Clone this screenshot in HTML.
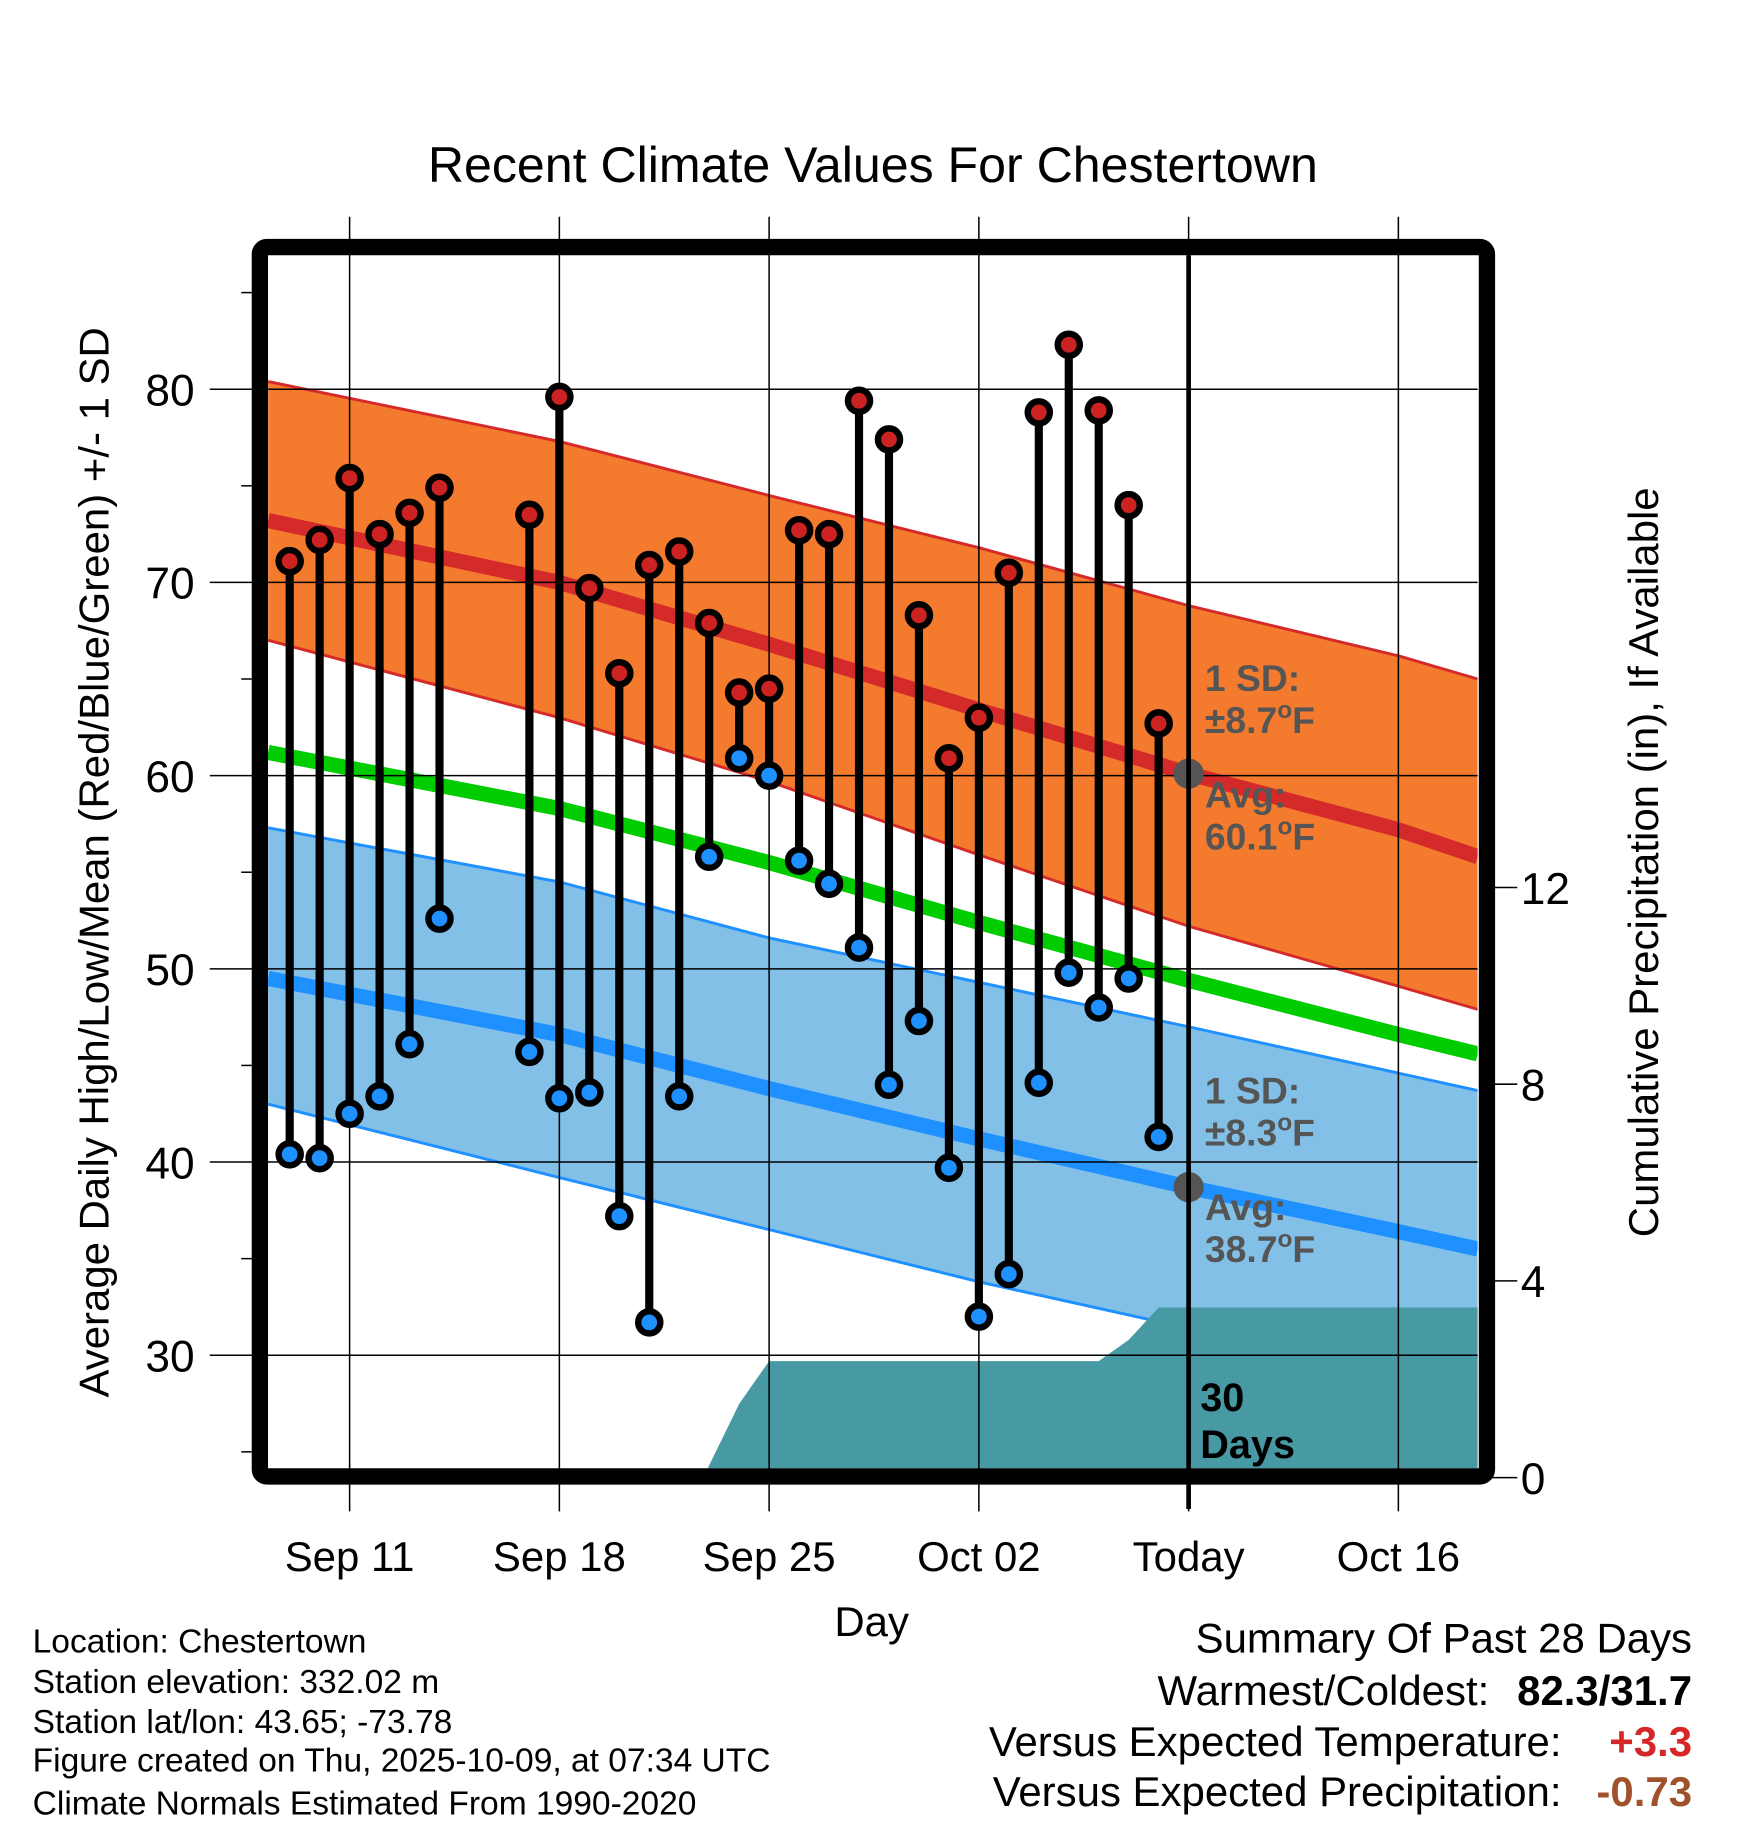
<!DOCTYPE html>
<html><head><meta charset="utf-8"><style>
html,body{margin:0;padding:0;background:#fff;}
svg{display:block;font-family:"Liberation Sans",sans-serif;}
</style></head><body>
<svg id="chart" width="1748" height="1828" viewBox="0 0 1500 1568.7" xmlns="http://www.w3.org/2000/svg">
<defs><clipPath id="pc"><rect x="230" y="219" width="1038" height="1041"/></clipPath></defs>
<rect x="0" y="0" width="1500" height="1569" fill="#fff"/>
<text x="749" y="156" font-size="43" text-anchor="middle">Recent Climate Values For Chestertown</text>
<g id="bands" clip-path="url(#pc)"></g>
<g id="grid"></g>
<g id="marks" clip-path="url(#pc)"></g>
<g id="axes"></g>
<rect x="223" y="212" width="1053" height="1055" rx="6" fill="none" stroke="#000" stroke-width="14"/>
<g font-size="32" font-weight="bold" fill="#555">
<text x="1034" y="593">1 SD:</text>
<text x="1034" y="629">±8.7<tspan font-size="21" dy="-13">o</tspan><tspan dy="13">F</tspan></text>
<text x="1034" y="693">Avg:</text>
<text x="1034" y="729">60.1<tspan font-size="21" dy="-13">o</tspan><tspan dy="13">F</tspan></text>
<text x="1034" y="947">1 SD:</text>
<text x="1034" y="983">±8.3<tspan font-size="21" dy="-13">o</tspan><tspan dy="13">F</tspan></text>
<text x="1034" y="1047">Avg:</text>
<text x="1034" y="1083">38.7<tspan font-size="21" dy="-13">o</tspan><tspan dy="13">F</tspan></text>
</g>
<g font-size="34" font-weight="bold" fill="#000">
<text x="1030" y="1211">30</text><text x="1030" y="1251">Days</text>
</g>
<text transform="translate(93,740) rotate(-90)" font-size="36" text-anchor="middle">Average Daily High/Low/Mean (Red/Blue/Green) +/- 1 SD</text>
<text transform="translate(1423,740) rotate(-90)" font-size="36" text-anchor="middle">Cumulative Precipitation (in), If Available</text>
<text x="748" y="1404" font-size="36" text-anchor="middle">Day</text>
<g font-size="28.8">
<text x="28" y="1418">Location: Chestertown</text>
<text x="28" y="1453">Station elevation: 332.02 m</text>
<text x="28" y="1487">Station lat/lon: 43.65; -73.78</text>
<text x="28" y="1520">Figure created on Thu, 2025-10-09, at 07:34 UTC</text>
<text x="28" y="1557">Climate Normals Estimated From 1990-2020</text>
</g>
<g font-size="36">
<text x="1452" y="1418" text-anchor="end">Summary Of Past 28 Days</text>
<text x="1278" y="1463" text-anchor="end">Warmest/Coldest:</text>
<text x="1452" y="1463" text-anchor="end" font-weight="bold">82.3/31.7</text>
<text x="1340" y="1507" text-anchor="end">Versus Expected Temperature:</text>
<text x="1452" y="1507" text-anchor="end" font-weight="bold" fill="#d62728">+3.3</text>
<text x="1340" y="1550" text-anchor="end">Versus Expected Precipitation:</text>
<text x="1452" y="1550" text-anchor="end" font-weight="bold" fill="#a0522d">-0.73</text>
</g>
<script>
// day index: 0 = Sep 11
const obsDays = [-2,-1,0,1,2,3,6,7,8,9,10,11,12,13,14,15,16,17,18,19,20,21,22,23,24,25,26,27];
const highs = [71.1,72.2,75.4,72.5,73.6,74.9,73.5,79.6,69.7,65.3,70.9,71.6,67.9,64.3,64.5,72.7,72.5,79.4,77.4,68.3,60.9,63.0,70.5,78.8,82.3,78.9,74.0,62.7];
const lows = [40.4,40.2,42.5,43.4,46.1,52.6,45.7,43.3,43.6,37.2,31.7,43.4,55.8,60.9,60.0,55.6,54.4,51.1,44.0,47.3,39.7,32.0,34.2,44.1,49.8,48.0,49.5,41.3];
const normDays = [-2.72,7,14,21,28,35,37.65];
const highAvg = [73.2,70.0,66.8,63.4,60.1,57.2,55.8];
const highUpper = [80.4,77.3,74.5,71.8,68.8,66.2,65.0];
const highLower = [67.0,63.0,59.7,55.9,52.2,49.1,47.9];
const meanAvg = [61.2,58.3,55.5,52.4,49.4,46.6,45.6];
const lowAvg = [49.5,46.6,43.8,41.2,38.7,36.4,35.5];
const lowUpper = [57.3,54.5,51.6,49.3,47.0,44.6,43.7];
const lowLower = [43.0,39.2,36.5,33.8,31.4,29.0,27.8];
const precipDays = [-3,11.8,13,14,25,26,27,38];
const precipCum = [0,0,1.5,2.37,2.37,2.8,3.46,3.46];
const xTickDays = [0,7,14,21,28,35];
const xTickLabels = ["Sep 11","Sep 18","Sep 25","Oct 02","Today","Oct 16"];
const yTicks = [30,40,50,60,70,80];
const y2Ticks = [0,4,8,12];
const todayDay = 28;
const todayHigh = 60.1, todayLow = 38.7;

const X = d => 300 + d*25.714;
const Y = v => 334 + (80 - v)*16.58;
const Y2 = p => 1268 - p*42.2;
const NS = "http://www.w3.org/2000/svg";
function mk(tag, parent, attrs){const e=document.createElementNS(NS,tag);for(const k in attrs)e.setAttribute(k,attrs[k]);parent.appendChild(e);return e;}
const bands = document.getElementById('bands');
const grid = document.getElementById('grid');
const marks = document.getElementById('marks');
const axes = document.getElementById('axes');
function linePts(arr){return normDays.map((d,i)=>X(d).toFixed(1)+','+Y(arr[i]).toFixed(1)).join(' ');}
function bandPts(up,lo){const a=normDays.map((d,i)=>X(d).toFixed(1)+','+Y(up[i]).toFixed(1));const b=normDays.map((d,i)=>X(d).toFixed(1)+','+Y(lo[i]).toFixed(1)).reverse();return a.concat(b).join(' ');}

let e;
e = mk('polygon', bands, {points: bandPts(highUpper, highLower), fill:'#f47a2e'});


e = mk('polyline', bands, {points: linePts(highUpper), fill:'none', stroke:'#d42a2a', 'stroke-width':2.5});


e = mk('polyline', bands, {points: linePts(highLower), fill:'none', stroke:'#d42a2a', 'stroke-width':2.5});


e = mk('polygon', bands, {points: bandPts(lowUpper, lowLower), fill:'#82c0e8'});


e = mk('polyline', bands, {points: linePts(lowUpper), fill:'none', stroke:'#1e90ff', 'stroke-width':2.5});


e = mk('polyline', bands, {points: linePts(lowLower), fill:'none', stroke:'#1e90ff', 'stroke-width':2.5});


e = mk('polyline', bands, {points: linePts(highAvg), fill:'none', stroke:'#d42a2a', 'stroke-width':13});


e = mk('polyline', bands, {points: linePts(meanAvg), fill:'none', stroke:'#00cc00', 'stroke-width':13});


e = mk('polyline', bands, {points: linePts(lowAvg), fill:'none', stroke:'#1e90ff', 'stroke-width':13});



// precipitation
let pp = precipDays.map((d,i)=>X(d).toFixed(1)+','+Y2(precipCum[i]).toFixed(1));
pp.push(X(precipDays[precipDays.length-1]).toFixed(1)+',1300');
pp.push(X(precipDays[0]).toFixed(1)+',1300');
e = mk('polygon', bands, {points: pp.join(' '), fill:'#4799a3'});



// grid
xTickDays.forEach((d,i)=>{
  const l = mk('line', grid, {x1:X(d), x2:X(d), y1:186, y2:1297, stroke:'#000', 'stroke-width':1.3});
  
  
  const t = mk('text', axes, {x:X(d), y:1348, 'font-size':36, 'text-anchor':'middle'});
  t.textContent = xTickLabels[i];
  
  
});
yTicks.forEach(v=>{
  const l = mk('line', grid, {x1:180, x2:1268, y1:Y(v), y2:Y(v), stroke:'#000', 'stroke-width':1.3});
  
  
  const t = mk('text', axes, {x:167, y:Y(v)+14, 'font-size':38, 'text-anchor':'end'});
  t.textContent = v;
  
  
});
for(let v=25; v<=85; v+=10){
  const l = mk('line', grid, {x1:207, x2:216, y1:Y(v), y2:Y(v), stroke:'#000', 'stroke-width':1.3});
  
  
}
y2Ticks.forEach(p=>{
  const l = mk('line', grid, {x1:1276, x2:1302, y1:Y2(p), y2:Y2(p), stroke:'#000', 'stroke-width':1.3});
  
  
  const t = mk('text', axes, {x:1305, y:Y2(p)+14, 'font-size':38});
  t.textContent = p;
  
  
});

// observations
obsDays.forEach((d,i)=>{
  const s = mk('line', marks, {x1:X(d), x2:X(d), y1:Y(highs[i]), y2:Y(lows[i]), stroke:'#000', 'stroke-width':7});
  
  
});
// today line
e = mk('line', axes, {x1:X(todayDay), x2:X(todayDay), y1:219, y2:1295, stroke:'#000', 'stroke-width':4});


obsDays.forEach((d,i)=>{
  const h = mk('circle', marks, {cx:X(d), cy:Y(highs[i]), r:9.5, fill:'#cc2222', stroke:'#000', 'stroke-width':5.5});
  
  
  const lo = mk('circle', marks, {cx:X(d), cy:Y(lows[i]), r:9.5, fill:'#1e90ff', stroke:'#000', 'stroke-width':5.5});
  
  
});
e = mk('circle', marks, {cx:X(todayDay), cy:Y(todayHigh), r:13, fill:'#555'});


e = mk('circle', marks, {cx:X(todayDay), cy:Y(todayLow), r:13, fill:'#555'});


</script>
</svg>
</body></html>
